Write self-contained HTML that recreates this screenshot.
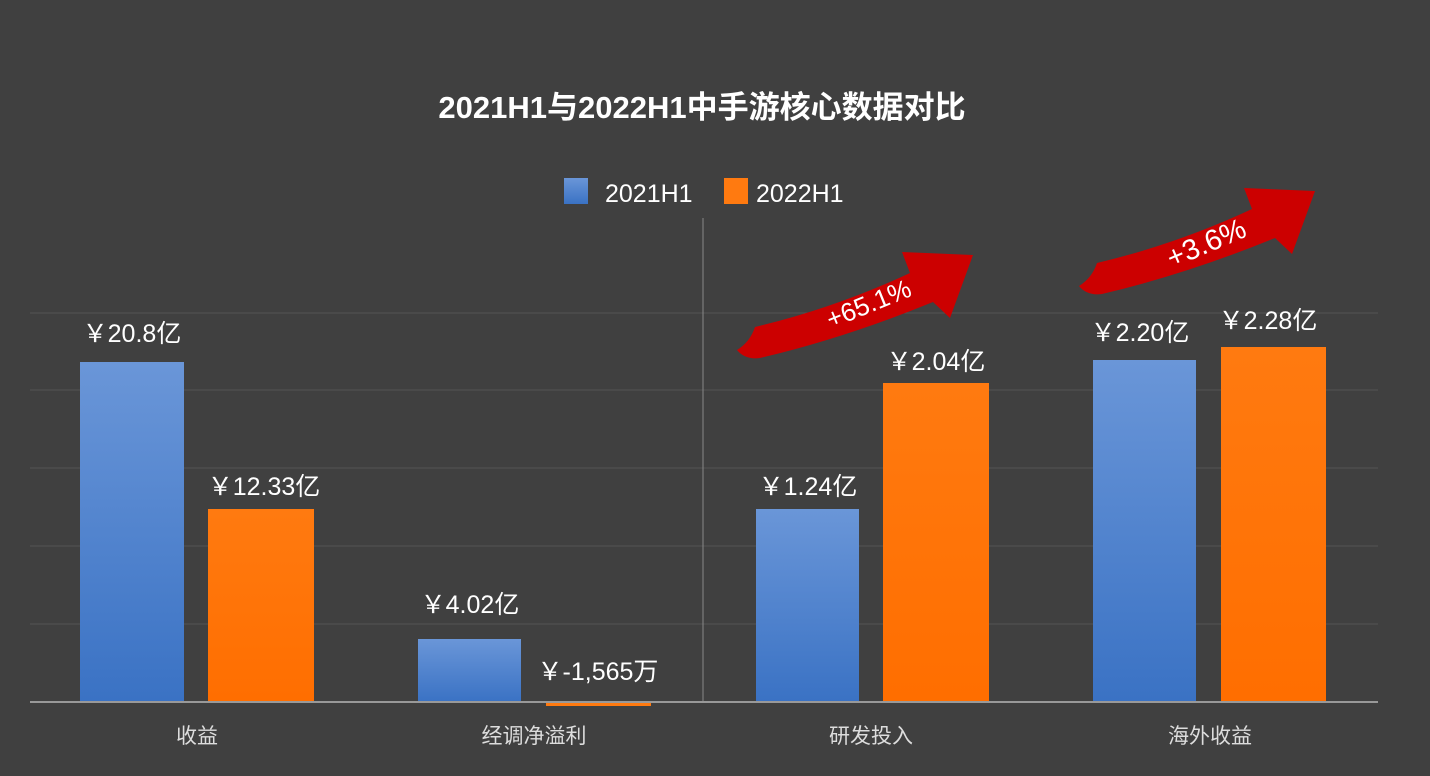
<!DOCTYPE html>
<html><head><meta charset="utf-8"><style>
body{margin:0;width:1430px;height:776px;background:#404040;overflow:hidden;font-family:"Liberation Sans","Noto Sans CJK SC",sans-serif;position:relative;}
.c{position:absolute;top:722px;width:200px;margin-left:-100px;text-align:center;color:#ddd;font-size:21px;line-height:30px;}
svg{position:absolute;left:0;top:0;}
</style></head><body>
<svg width="1430" height="776" xmlns="http://www.w3.org/2000/svg" style="font-family:'Liberation Sans','Noto Sans CJK SC',sans-serif">
<defs>
<linearGradient id="b" x1="0" y1="0" x2="0" y2="1"><stop offset="0" stop-color="#6a96d8"/><stop offset="1" stop-color="#3a72c4"/></linearGradient>
<linearGradient id="o" x1="0" y1="0" x2="0" y2="1"><stop offset="0" stop-color="#ff7a10"/><stop offset="1" stop-color="#ff6e00"/></linearGradient>
</defs>
<text x="702" y="118" fill="#fff" font-size="31" font-weight="bold" text-anchor="middle">2021H1与2022H1中手游核心数据对比</text>
<rect x="564" y="178" width="24" height="26" fill="url(#b)"/>
<text x="605" y="202" fill="#fff" font-size="25">2021H1</text>
<rect x="724" y="178" width="24" height="26" fill="#ff7a10"/>
<text x="756" y="202" fill="#fff" font-size="25">2022H1</text>
<g stroke="#555" stroke-width="1">
<line x1="30" y1="313" x2="1378" y2="313"/><line x1="30" y1="390" x2="1378" y2="390"/>
<line x1="30" y1="468" x2="1378" y2="468"/><line x1="30" y1="546" x2="1378" y2="546"/>
<line x1="30" y1="624" x2="1378" y2="624"/>
</g>
<line x1="703" y1="218" x2="703" y2="702" stroke="#888" stroke-width="1"/>
<rect x="80" y="362" width="104" height="340" fill="url(#b)"/>
<rect x="208" y="509" width="106" height="193" fill="url(#o)"/>
<rect x="418" y="639" width="103" height="63" fill="url(#b)"/>
<rect x="546" y="701" width="105" height="5" fill="#ff7a10"/>
<rect x="756" y="509" width="103" height="193" fill="url(#b)"/>
<rect x="883" y="383" width="106" height="319" fill="url(#o)"/>
<rect x="1093" y="360" width="103" height="342" fill="url(#b)"/>
<rect x="1221" y="347" width="105" height="355" fill="url(#o)"/>
<line x1="30" y1="702" x2="1378" y2="702" stroke="#999" stroke-width="2"/>
<g fill="#fff" font-size="25" text-anchor="middle">
<text x="132" y="342">￥20.8亿</text>
<text x="264" y="495">￥12.33亿</text>
<text x="470" y="613">￥4.02亿</text>
<text x="598" y="680">￥-1,565万</text>
<text x="808" y="495">￥1.24亿</text>
<text x="936" y="370">￥2.04亿</text>
<text x="1140" y="341">￥2.20亿</text>
<text x="1268" y="329">￥2.28亿</text>
</g>
<path d="M737,350 Q750,342 755,327 Q835,308 910,273 L902,252 L973,255 L950,318 L933,302 Q845,338 760,358 Q745,360 737,350 Z" fill="#cc0000"/>
<text x="0" y="0" transform="translate(872,312) rotate(-22)" fill="#fff" font-size="26" text-anchor="middle">+65.1%</text>
<g transform="translate(342,-64)">
<path d="M737,350 Q750,342 755,327 Q835,308 910,273 L902,252 L973,255 L950,318 L933,302 Q845,338 760,358 Q745,360 737,350 Z" fill="#cc0000"/>
</g>
<text x="0" y="0" transform="translate(1210,252) rotate(-23)" fill="#fff" font-size="29" text-anchor="middle">+3.6%</text>
</svg>
<div class="c" style="left:197px">收益</div>
<div class="c" style="left:534px">经调净溢利</div>
<div class="c" style="left:871px">研发投入</div>
<div class="c" style="left:1210px">海外收益</div>
</body></html>
